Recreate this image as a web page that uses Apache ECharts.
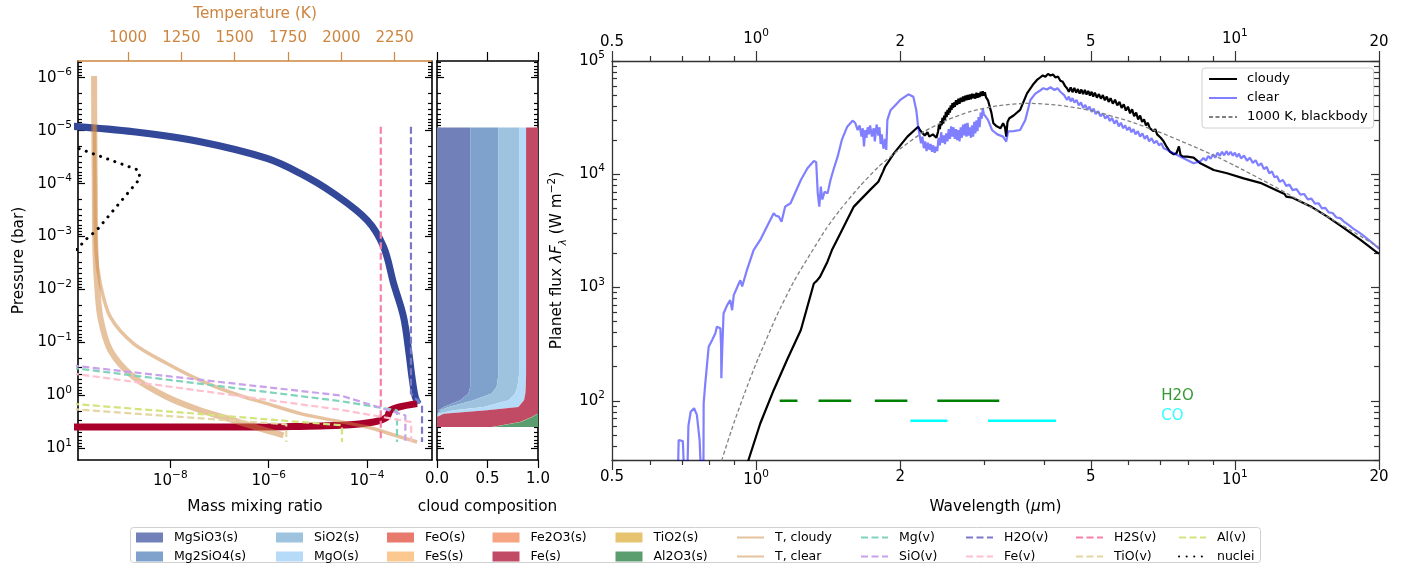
<!DOCTYPE html>
<html>
<head>
<meta charset="utf-8">
<script src="https://cdn.jsdelivr.net/npm/echarts@6/dist/echarts.min.js"></script>
<style>
  html, body { margin: 0; padding: 0; background: #ffffff; }
  #chart { width: 1405px; height: 564px; }
</style>
</head>
<body>
<div id="chart"></div>
<script>
// ---------------------------------------------------------------------------
// Axis ranges and tick values
// ---------------------------------------------------------------------------
const mmrRange = [1.33e-10, 2.09e-3];
const tempRange = [765.6, 2425];
const presRange = [4.83e-7, 16.6];
const compRange = [0, 1];
const wlRange = [0.49999, 20.0001];
const fluxRange = [30, 100001];

const mmrTicks = [1e-8, 1e-6, 1e-4];
const tempTicks = [1000, 1250, 1500, 1750, 2000, 2250];
const presTicks = [1e-6, 1e-5, 1e-4, 1e-3, 1e-2, 1e-1, 1, 10];
const compTicks = [0, 0.5, 1];
const wlTicks = [0.5, 1, 2, 5, 10, 20];
const wlTickText = ['0.5', '10^0', '2', '5', '10^1', '20'];
const wlMinorTicks = [0.6, 0.7, 0.8, 0.9, 3, 4, 6, 7, 8, 9];
const fluxTicks = [1e2, 1e3, 1e4, 1e5];

// ---------------------------------------------------------------------------
// Left panel: condensate / vapour mass mixing ratio vs pressure [mmr, bar]
// ---------------------------------------------------------------------------
const mgsio3Cloud = [[1e-10, 8.24e-6], [1.79e-9, 1.05e-5], [4.07e-8, 1.62e-5], [9.23e-7, 3.34e-5],
  [4.39e-6, 6.41e-5], [2.08e-5, 1.53e-4], [1e-4, 4.9e-4], [2.17e-4, 1.57e-3], [3.47e-4, 7.71e-3],
  [5.52e-4, 0.033], [6.98e-4, 0.14], [8.18e-4, 0.449], [9.55e-4, 1.07], [1.1e-3, 1.43]];
const mg2sio4Cloud = [[1.0e-3, 1.2], [1.1e-3, 1.45]];
const feCloud = [[1e-10, 3.96], [1.94e-7, 3.96], [2.08e-6, 3.9], [2.85e-5, 3.67], [1.36e-4, 3.18],
  [2.54e-4, 2.56], [2.96e-4, 1.91], [4.38e-4, 1.66], [1.04e-3, 1.43]];

const mgVap = [[1e-10, 0.302], [2.85e-5, 1.28], [4.06e-4, 1.91], [4.06e-4, 7.6]];
const sioVap = [[1e-10, 0.272], [2.85e-5, 1.0], [6.0e-4, 2.38], [6.0e-4, 7.2]];
const h2oVap = [[7.8e-4, 8.43e-6], [7.8e-4, 0.925], [1.31e-3, 1.54], [1.31e-3, 7.6]];
const feVap = [[1e-10, 0.385], [2.85e-5, 1.86], [7.9e-4, 3.18], [7.9e-4, 7.6]];
const h2sVap = [[1.9e-4, 8.43e-6], [1.9e-4, 7.3]];
const tioVap = [[1e-10, 1.82], [2.28e-6, 3.52], [2.28e-6, 7.6]];
const alVap = [[1e-10, 1.44], [3.09e-5, 3.67], [3.09e-5, 7.6]];
const nuclei = [[1e-10, 1.95e-5], [2.25e-9, 5.56e-5], [2.43e-9, 7.98e-5], [3.21e-10, 7.57e-4],
  [1.85e-10, 1.17e-3], [1.33e-10, 1.68e-3], [1e-10, 2.0e-3]];

// Temperature profiles [K, bar]
const tCloudy = [[843, 7.8e-6], [845, 1e-4], [850, 1.8e-3], [870, 7.7e-3], [917, 0.033], [1026, 0.105],
  [1183, 0.25], [1339, 0.52], [1495, 0.92], [1652, 1.43], [1808, 2.21], [1964, 2.96], [2120, 3.96],
  [2277, 6.1], [2355, 7.6]];
const tClear = [[841, 9.3e-7], [842, 1e-5], [844, 1e-4], [847, 1.8e-3], [855, 7.7e-3], [870, 0.033],
  [917, 0.14], [1026, 0.449], [1183, 1.07], [1339, 1.91], [1495, 2.96], [1620, 4.25], [1729, 5.68]];

// ---------------------------------------------------------------------------
// Middle panel: cloud composition (mass fraction per species at each level)
// ---------------------------------------------------------------------------
const compP = [8.7e-6, 0.387, 0.693, 0.925, 1.24, 1.66, 1.91, 2.21, 2.56, 3.18, 3.96];
const mgsio3Frac = [0.329, 0.329, 0.329, 0.31, 0.23, 0.066, 0.016, 0, 0, 0, 0];
const mg2sio4Frac = [0.28, 0.28, 0.261, 0.23, 0.13, 0.049, 0.017, 0, 0, 0, 0];
const sio2Frac = [0.204, 0.204, 0.206, 0.233, 0.347, 0.345, 0.132, 0.007, 0, 0, 0];
const mgoFrac = [0.069, 0.069, 0.083, 0.102, 0.155, 0.346, 0.329, 0.059, 0, 0, 0];
const feoFrac = [0, 0, 0, 0, 0, 0, 0, 0, 0, 0, 0];
const fesFrac = [0, 0, 0, 0, 0, 0, 0, 0, 0, 0, 0];
const fe2o3Frac = [0, 0, 0, 0, 0, 0, 0, 0, 0, 0, 0];
const feFrac = [0.118, 0.118, 0.121, 0.125, 0.138, 0.194, 0.506, 0.929, 0.938, 0.823, 0.543];
const tio2Frac = [0, 0, 0, 0, 0, 0, 0, 0.002, 0.005, 0.007, 0.01];
const al2o3Frac = [0, 0, 0, 0, 0, 0, 0, 0.003, 0.057, 0.17, 0.447];

// ---------------------------------------------------------------------------
// Right panel: emission spectra [wavelength um, lambda F_lambda W m^-2]
// ---------------------------------------------------------------------------
const cloudySpec = [[0.95, 24], [0.964, 30], [1.02, 63], [1.088, 124], [1.16, 229], [1.24, 421],
  [1.32, 1086], [1.34, 1150], [1.36, 1245], [1.41, 1700], [1.44, 2140], [1.5, 3010], [1.6, 5180],
  [1.73, 7280], [1.8, 8600], [1.84, 10500], [1.86, 11700], [1.87, 11300], [1.94, 15300], [2.07, 21500],
  [2.18, 26300], [2.2, 24500], [2.22, 23800], [2.25, 22000], [2.28, 23500], [2.3, 21500], [2.34, 22500],
  [2.38, 21000],
  [2.40, 24000], [2.41, 27500], [2.42, 25000], [2.43, 29500], [2.44, 27000], [2.45, 31500], [2.46, 28000],
  [2.47, 33000], [2.48, 30000], [2.49, 35500], [2.50, 32000], [2.51, 37000], [2.52, 33500], [2.53, 38500],
  [2.54, 35000], [2.55, 40500], [2.56, 37000], [2.57, 42500], [2.58, 38500], [2.59, 43000], [2.60, 39500],
  [2.615, 45000], [2.63, 41000], [2.645, 46500], [2.66, 42000], [2.675, 47500], [2.69, 43500], [2.705, 48500],
  [2.72, 44000], [2.735, 49500], [2.75, 45000], [2.765, 50000], [2.78, 45500], [2.795, 50500], [2.81, 46000],
  [2.825, 51500], [2.84, 47000], [2.855, 51000], [2.87, 46500], [2.885, 52500], [2.90, 47500], [2.915, 52000],
  [2.93, 48000], [2.945, 53500], [2.96, 49000], [2.975, 54000], [2.99, 49500], [3.005, 53000], [3.02, 48000],
  [3.05, 45000], [3.1, 35000], [3.13, 28200], [3.18, 26500], [3.24, 25500], [3.28, 28200],
  [3.31, 26000], [3.33, 21500], [3.35, 29000], [3.38, 31200], [3.45, 33000], [3.56, 37000], [3.68, 51800],
  [3.8, 63000], [3.86, 68000], [3.92, 71500], [3.97, 74500], [4.02, 72500], [4.07, 77000], [4.12, 74500],
  [4.17, 76000], [4.22, 71500], [4.27, 73000], [4.32, 67000], [4.37, 65500], [4.42, 60000],
  [4.46, 57400], [4.50, 53500], [4.54, 58500], [4.58, 53000], [4.62, 58000], [4.66, 52500], [4.70, 56500],
  [4.74, 51500], [4.78, 56000], [4.82, 51000], [4.86, 55500], [4.90, 50500], [4.94, 54500], [4.98, 49500],
  [5.02, 53500], [5.06, 48500], [5.10, 52500], [5.15, 47500], [5.20, 51000], [5.25, 46500], [5.30, 50000],
  [5.35, 45000], [5.40, 48500], [5.45, 43500], [5.50, 47000], [5.56, 42000], [5.62, 45500], [5.68, 40500],
  [5.74, 43500], [5.80, 38500], [5.86, 41500], [5.92, 36500], [5.98, 39500], [6.04, 34500], [6.10, 37500],
  [6.16, 32500], [6.22, 35000], [6.28, 30500], [6.34, 33000], [6.40, 29000], [6.46, 30500], [6.52, 27000],
  [6.58, 28500], [6.64, 25500], [6.70, 26500], [6.76, 24000], [6.82, 25000], [6.88, 22500], [6.94, 23000],
  [7.0, 21000], [7.1, 19500], [7.2, 17500], [7.32, 15800], [7.45, 15000], [7.55, 15300],
  [7.64, 17600], [7.7, 14800], [7.78, 14300], [7.95, 14300], [8.2, 14000], [8.47, 12500], [9.03, 10900],
  [9.63, 10200], [10.43, 9200], [11.3, 8400], [12.4, 7020], [12.7, 6700], [12.8, 6350], [13.2, 6200],
  [14.4, 5200], [15.6, 4230], [16.9, 3350], [18.3, 2630], [19.7, 2070], [20, 1990]];

const clearSpec = [[0.686, 20], [0.689, 45], [0.695, 46], [0.703, 44], [0.708, 20], [0.718, 20],
  [0.722, 60], [0.73, 80], [0.742, 86], [0.752, 75], [0.762, 45], [0.768, 20], [0.776, 20], [0.777, 95],
  [0.783, 142], [0.789, 200], [0.796, 300], [0.809, 343], [0.822, 394], [0.828, 450], [0.842, 436],
  [0.845, 300], [0.846, 158], [0.85, 300], [0.855, 590], [0.87, 700], [0.883, 774], [0.891, 630],
  [0.898, 857], [0.92, 1086], [0.927, 1160], [0.935, 1020], [0.957, 1430], [0.988, 2140], [1.02, 2630],
  [1.053, 3440], [1.088, 4530], [1.1, 4300], [1.115, 4230], [1.13, 3810], [1.15, 5180], [1.18, 5540],
  [1.24, 8900], [1.28, 11300], [1.32, 13100], [1.335, 12800], [1.345, 6780], [1.355, 5180], [1.365, 7790],
  [1.375, 5980], [1.39, 7000], [1.41, 6780], [1.43, 8900], [1.45, 10900], [1.48, 14300], [1.51, 20100],
  [1.55, 26300], [1.59, 29700], [1.61, 28500], [1.63, 24500], [1.645, 27000], [1.66, 21500], [1.67, 25500],
  [1.68, 17600], [1.69, 24500], [1.70, 21000], [1.71, 26000], [1.72, 22500], [1.73, 27000], [1.745, 21500],
  [1.76, 25500], [1.77, 19500], [1.785, 27500], [1.80, 22000], [1.81, 26000], [1.82, 18500], [1.83, 22500],
  [1.845, 16800], [1.86, 20500], [1.87, 16400], [1.88, 30200], [1.91, 37000], [1.94, 39500], [2.0, 45300],
  [2.08, 50800], [2.13, 48400], [2.16, 37000], [2.18, 26300],
  [2.21, 18800], [2.225, 21500], [2.24, 17000], [2.255, 19500], [2.27, 16000], [2.285, 19000], [2.30, 16500],
  [2.315, 18500], [2.33, 15800], [2.345, 18000], [2.36, 15500], [2.375, 17500], [2.39, 16000], [2.405, 21000],
  [2.42, 18000], [2.435, 23500], [2.45, 19000], [2.465, 22000], [2.48, 18500], [2.495, 23000], [2.51, 19500],
  [2.525, 25000], [2.54, 20500], [2.555, 26500], [2.57, 21500], [2.585, 26000], [2.60, 20500], [2.615, 25000],
  [2.63, 20000], [2.645, 24500], [2.66, 19500], [2.675, 26000], [2.69, 21000], [2.705, 27500], [2.72, 22000],
  [2.735, 28000], [2.75, 21500], [2.765, 28500], [2.78, 22000], [2.795, 26000], [2.81, 21000], [2.825, 27000],
  [2.84, 21500], [2.855, 29000], [2.87, 23000], [2.885, 30000], [2.90, 24000], [2.915, 32000], [2.93, 26000],
  [2.945, 35000], [2.96, 31000], [2.975, 38000], [2.99, 34000], [3.01, 33000],
  [3.05, 30200], [3.11, 24600], [3.19, 22500], [3.28, 21500], [3.33, 19400], [3.36, 23900], [3.45, 24000],
  [3.56, 24600], [3.65, 30200], [3.74, 45300], [3.83, 51500], [3.92, 54900], [3.98, 57500], [4.05, 56000],
  [4.12, 58600], [4.2, 55500], [4.26, 57500], [4.32, 53500], [4.4, 50000],
  [4.46, 45300], [4.50, 48500], [4.54, 44000], [4.58, 47000], [4.62, 43000], [4.67, 45300], [4.72, 40500],
  [4.77, 43000], [4.82, 38500], [4.87, 41000], [4.92, 37000], [4.97, 39500], [5.02, 35500], [5.07, 38000],
  [5.12, 34000], [5.18, 36000], [5.24, 32500], [5.30, 34500], [5.36, 31000], [5.42, 33000], [5.48, 29500],
  [5.54, 31500], [5.60, 28000], [5.66, 30000], [5.72, 26500], [5.78, 28500], [5.84, 25500], [5.90, 27000],
  [5.96, 24500], [6.02, 26000], [6.08, 23500], [6.14, 25000], [6.20, 22500], [6.27, 24000], [6.34, 21500],
  [6.41, 23000], [6.48, 20500], [6.55, 22000], [6.62, 19500], [6.70, 20800], [6.78, 18800], [6.86, 19800],
  [6.94, 18000], [7.02, 18800], [7.1, 17000], [7.2, 16500], [7.3, 16000], [7.45, 15300], [7.7, 14300],
  [8.2, 12500],
  [8.47, 13000], [8.6, 13900], [8.7, 13200], [8.8, 14500], [8.9, 13700], [9.0, 15000], [9.1, 14000],
  [9.2, 15500], [9.3, 14500], [9.4, 15800], [9.5, 14700], [9.6, 16000], [9.7, 14800], [9.8, 15800],
  [9.9, 14600], [10.0, 15500], [10.1, 14200], [10.2, 15200], [10.3, 13800], [10.45, 14600], [10.6, 13200],
  [10.75, 14000], [10.9, 12600], [11.05, 13300], [11.2, 11900], [11.35, 12500], [11.5, 11100], [11.65, 11600],
  [11.8, 10200], [11.95, 10600], [12.1, 9400], [12.25, 9600], [12.4, 8600], [12.6, 8900], [12.8, 7900],
  [13.0, 8100], [13.2, 7250], [13.45, 7400], [13.7, 6600], [13.95, 6700], [14.2, 6000], [14.45, 6100],
  [14.7, 5500], [14.95, 5550], [15.2, 5000], [15.45, 5050], [15.7, 4600], [16.0, 4550], [16.3, 4150],
  [16.6, 4100], [16.9, 3810], [17.3, 3550], [17.7, 3300], [18.1, 3100], [18.5, 2900], [19.0, 2650],
  [19.5, 2420], [20, 2200]];

const blackbodySpec = [[0.84, 26], [0.85, 31], [0.9, 65], [0.95, 122], [1.0, 214], [1.1, 545],
  [1.2, 1140], [1.3, 2000], [1.4, 3300], [1.5, 4900], [1.65, 7900], [1.8, 11600], [2.0, 16800],
  [2.25, 24000], [2.5, 30000], [2.8, 35800], [3.2, 40300], [3.7, 42300], [4.3, 40600], [5.0, 36600],
  [6.0, 29500], [7.0, 23300], [8.0, 18400], [9.0, 14800], [10.0, 11900], [12.0, 7950], [14.0, 5500],
  [16.0, 3980], [18.0, 2960], [20.0, 2260]];

// Molecular band markers: [start, end] wavelength pairs and their level
const h2oBands = [[1.12, 1.22], [1.35, 1.58], [1.77, 2.07], [2.39, 3.22]];
const coBands = [[2.10, 2.51], [3.05, 4.23]];
const h2oLevel = 100;
const coLevel = 66.7;
const bandLabelWl = 7.0;

// ---------------------------------------------------------------------------
// Styling
// ---------------------------------------------------------------------------
const FONT = 'DejaVu Sans';
const TAN = '#cd853f';
const compNames = ['MgSiO3(s)', 'Mg2SiO4(s)', 'SiO2(s)', 'MgO(s)', 'FeO(s)', 'FeS(s)', 'Fe2O3(s)', 'Fe(s)', 'TiO2(s)', 'Al2O3(s)'];
const compColors = ['#7180b9', '#7fa2cd', '#9dc3de', '#b6dbf8', '#e8796d', '#fbc88f', '#f6a583', '#c14a64', '#e6c46f', '#5a9e6f'];
const compFracs = [mgsio3Frac, mg2sio4Frac, sio2Frac, mgoFrac, feoFrac, fesFrac, fe2o3Frac, feFrac, tio2Frac, al2o3Frac];

const tickRich = {
  b: { fontFamily: FONT, fontSize: 15, lineHeight: 22, color: '#000' },
  s: { fontFamily: FONT, fontSize: 10.5, lineHeight: 10, verticalAlign: 'top', color: '#000' },
  n: { fontFamily: FONT, fontSize: 15, lineHeight: 16, color: '#000' }
};
const nameStyle = { fontFamily: FONT, fontSize: 15.3, color: '#000', lineHeight: 20 };

function pow10Label(v) {
  const e = Math.round(Math.log10(v));
  return '{b|10}{s|' + (e < 0 ? '\u2212' + (-e) : String(e)) + '}';
}
function wlLabel(v) {
  let best = 0;
  wlTicks.forEach((t, i) => { if (Math.abs(Math.log(v / t)) < Math.abs(Math.log(v / wlTicks[best]))) best = i; });
  const txt = wlTickText[best];
  return txt.indexOf('^') > 0 ? '{b|10}{s|' + txt.split('^')[1] + '}' : '{n|' + txt + '}';
}
function minorLogTicks(lo, hi) {
  const out = [];
  for (let e = Math.floor(Math.log10(lo)); e <= Math.ceil(Math.log10(hi)); e++) {
    for (let m = 2; m <= 9; m++) {
      const v = m * Math.pow(10, e);
      if (v >= lo && v <= hi) out.push(v);
    }
  }
  return out;
}

function mkAxis(o) {
  const a = {
    type: o.type || 'log',
    gridIndex: o.grid,
    position: o.pos,
    min: o.range[0],
    max: o.range[1],
    inverse: !!o.inverse,
    splitLine: { show: false },
    minorTick: { show: false },
    minorSplitLine: { show: false },
    axisLine: { show: !!o.line, onZero: false, lineStyle: { color: o.color || '#000', width: o.lw || 1.6 } },
    axisTick: { show: !!o.ticks, inside: !!o.inside, length: o.len || 7, customValues: o.ticks,
                lineStyle: { color: o.color || '#000', width: o.tw || 1.2 } },
    axisLabel: { show: !!o.labels, customValues: o.labels, formatter: o.fmt, margin: o.margin || 8,
                 fontFamily: FONT, fontSize: 15, lineHeight: 18, color: o.labelColor || '#000', rich: tickRich },
    axisPointer: { show: false },
    silent: true
  };
  if (a.type === 'log') a.logBase = 10;
  if (o.name) {
    a.name = o.name;
    a.nameLocation = 'middle';
    a.nameGap = o.gap;
    if (o.rot) a.nameRotate = o.rot;
    a.nameTextStyle = o.nameStyle || nameStyle;
  }
  return a;
}

const presMinor = minorLogTicks(presRange[0], presRange[1]);
const fluxMinor = minorLogTicks(fluxRange[0], fluxRange[1]);
const RIGHT_INK = '#333';

const xAxes = [
  // 0: mass mixing ratio, bottom of left panel
  mkAxis({ grid: 0, pos: 'bottom', range: mmrRange, line: true, ticks: mmrTicks, len: 8, labels: mmrTicks,
           fmt: pow10Label, margin: 10, name: 'Mass mixing ratio', gap: 37 }),
  // 1: temperature, top of left panel
  mkAxis({ type: 'value', grid: 0, pos: 'top', range: tempRange, line: true, color: TAN, ticks: tempTicks, len: 9,
           labels: tempTicks, labelColor: TAN, margin: 14, fmt: v => String(Math.round(v)),
           name: 'Temperature (K)', gap: 33, nameStyle: Object.assign({}, nameStyle, { color: TAN }) }),
  // 2: cloud composition fraction, bottom of middle panel
  mkAxis({ type: 'value', grid: 1, pos: 'bottom', range: compRange, line: true, ticks: compTicks, len: 8,
           labels: compTicks, fmt: v => v.toFixed(1), margin: 10, name: 'cloud composition', gap: 37 }),
  // 3: top spine of middle panel
  mkAxis({ type: 'value', grid: 1, pos: 'top', range: compRange, line: true, ticks: compTicks, len: 9 }),
  // 4: wavelength, bottom, major ticks + labels
  mkAxis({ grid: 2, pos: 'bottom', range: wlRange, line: true, color: RIGHT_INK, lw: 1.3, ticks: wlTicks, len: 10,
           labels: wlTicks, fmt: wlLabel, margin: 9, name: 'Wavelength ({i|\u03bc}m)', gap: 37,
           nameStyle: Object.assign({}, nameStyle, { rich: { i: { fontFamily: FONT, fontSize: 15.3, fontStyle: 'italic', color: '#000', lineHeight: 20 } } }) }),
  // 5: wavelength, bottom, minor ticks
  mkAxis({ grid: 2, pos: 'bottom', range: wlRange, color: RIGHT_INK, ticks: wlMinorTicks, len: 5 }),
  // 6: wavelength, top, major ticks + labels
  mkAxis({ grid: 2, pos: 'top', range: wlRange, line: true, color: RIGHT_INK, lw: 1.3, ticks: wlTicks, len: 10,
           labels: wlTicks, fmt: wlLabel, margin: 11 }),
  // 7: wavelength, top, minor ticks
  mkAxis({ grid: 2, pos: 'top', range: wlRange, color: RIGHT_INK, ticks: wlMinorTicks, len: 5 })
];

const yAxes = [
  // left panel
  mkAxis({ grid: 0, pos: 'left', range: presRange, inverse: true, line: true, ticks: presTicks, inside: true, len: 7,
           labels: presTicks, fmt: pow10Label, margin: 6, name: 'Pressure (bar)', gap: 49, rot: 90 }),
  mkAxis({ grid: 0, pos: 'left', range: presRange, inverse: true, ticks: presMinor, inside: true, len: 4 }),
  mkAxis({ grid: 0, pos: 'right', range: presRange, inverse: true, line: true, ticks: presTicks, inside: true, len: 7 }),
  mkAxis({ grid: 0, pos: 'right', range: presRange, inverse: true, ticks: presMinor, inside: true, len: 4 }),
  // middle panel
  mkAxis({ grid: 1, pos: 'left', range: presRange, inverse: true, line: true, ticks: presTicks, inside: true, len: 7 }),
  mkAxis({ grid: 1, pos: 'left', range: presRange, inverse: true, ticks: presMinor, inside: true, len: 4 }),
  mkAxis({ grid: 1, pos: 'right', range: presRange, inverse: true, line: true, ticks: presTicks, inside: true, len: 7 }),
  mkAxis({ grid: 1, pos: 'right', range: presRange, inverse: true, ticks: presMinor, inside: true, len: 4 }),
  // right panel
  mkAxis({ grid: 2, pos: 'left', range: fluxRange, line: true, color: RIGHT_INK, lw: 1.3, ticks: fluxTicks, inside: true,
           len: 8, labels: fluxTicks, fmt: pow10Label, margin: 7,
           name: 'Planet flux {i|\u03bbF}{sub|\u03bb} (W m{sup|\u22122})', gap: 39, rot: 90,
           nameStyle: Object.assign({}, nameStyle, { lineHeight: 22, rich: {
             i: { fontFamily: FONT, fontSize: 15.3, fontStyle: 'italic', color: '#000', lineHeight: 22 },
             sub: { fontFamily: FONT, fontSize: 10.5, fontStyle: 'italic', color: '#000', lineHeight: 14, verticalAlign: 'bottom' },
             sup: { fontFamily: FONT, fontSize: 10.5, color: '#000', lineHeight: 12, verticalAlign: 'top' } } }) }),
  mkAxis({ grid: 2, pos: 'left', range: fluxRange, color: RIGHT_INK, ticks: fluxMinor, inside: true, len: 5 }),
  mkAxis({ grid: 2, pos: 'right', range: fluxRange, line: true, color: RIGHT_INK, lw: 1.3, ticks: fluxTicks, inside: true, len: 8 }),
  mkAxis({ grid: 2, pos: 'right', range: fluxRange, color: RIGHT_INK, ticks: fluxMinor, inside: true, len: 5 })
];

// ---------------------------------------------------------------------------
// Series
// ---------------------------------------------------------------------------
const series = [];

function lineSeries(name, data, xi, yi, color, width, type, z, extra) {
  return Object.assign({
    type: 'line', name: name, data: data, xAxisIndex: xi, yAxisIndex: yi,
    showSymbol: false, symbol: 'none', clip: true, z: z, silent: true,
    lineStyle: { color: color, width: width, type: type || 'solid' },
    itemStyle: { color: color },
    emphasis: { disabled: true }
  }, extra || {});
}

// stacked cloud-composition bands, drawn as polygons in the middle panel
let cumulative = compP.map(() => 0);
compFracs.forEach((frac, s) => {
  const lo = cumulative.slice();
  const hi = cumulative.map((c, k) => c + frac[k]);
  cumulative = hi;
  const color = compColors[s];
  series.push({
    type: 'custom', name: compNames[s], xAxisIndex: 2, yAxisIndex: 4, z: 2, silent: true,
    itemStyle: { color: color },
    encode: { x: [0, 1], y: 2 },
    data: compP.map((p, k) => [lo[k], hi[k], p]),
    renderItem: function (params, api) {
      if (params.dataIndex !== 0) return;
      const pts = [];
      for (let k = 0; k < compP.length; k++) pts.push(api.coord([hi[k], compP[k]]));
      for (let k = compP.length - 1; k >= 0; k--) pts.push(api.coord([lo[k], compP[k]]));
      return { type: 'polygon', shape: { points: pts }, style: { fill: color } };
    }
  });
});

// condensate mass mixing ratios
series.push(lineSeries('', mgsio3Cloud, 0, 0, '#34489a', 7, 'solid', 3, { smooth: 0.35 }));
series.push(lineSeries('', mg2sio4Cloud, 0, 0, '#4a80c2', 6, 'solid', 3));
series.push(lineSeries('', feCloud, 0, 0, '#a8002a', 7, 'solid', 3, { smooth: 0.3 }));

// temperature profiles
series.push(lineSeries('T, cloudy', tCloudy, 1, 0, 'rgba(205,133,63,0.5)', 3.5, 'solid', 4, { smooth: 0.3 }));
series.push(lineSeries('T, clear', tClear, 1, 0, 'rgba(205,133,63,0.5)', 6, 'solid', 4, { smooth: 0.3 }));

// gas-phase mixing ratios
const dash = [7, 3.5];
series.push(lineSeries('Mg(v)', mgVap, 0, 0, '#80d3bb', 2.2, dash, 5));
series.push(lineSeries('SiO(v)', sioVap, 0, 0, '#c9a0ec', 2.2, dash, 5));
series.push(lineSeries('H2O(v)', h2oVap, 0, 0, '#7b78c8', 2.2, dash, 5));
series.push(lineSeries('Fe(v)', feVap, 0, 0, '#ffc0cf', 2.2, dash, 5));
series.push(lineSeries('H2S(v)', h2sVap, 0, 0, '#f77fa8', 2.2, dash, 5));
series.push(lineSeries('TiO(v)', tioVap, 0, 0, '#e4d6a4', 2.2, dash, 5));
series.push(lineSeries('Al(v)', alVap, 0, 0, '#d4e47c', 2.2, dash, 5));
series.push(lineSeries('nuclei', nuclei, 0, 0, '#000', 3, [0.1, 7.5], 6,
  { lineStyle: { color: '#000', width: 3, type: [0.1, 7.5], cap: 'round' } }));

// spectra
series.push(lineSeries('cloudy', cloudySpec, 4, 8, '#000', 2.2, 'solid', 3));
series.push(lineSeries('clear', clearSpec, 4, 8, 'rgba(0,0,255,0.5)', 2.2, 'solid', 4));
series.push(lineSeries('1000 K, blackbody', blackbodySpec, 4, 8, '#808080', 1.3, [4, 2.5], 5, { smooth: 0.2 }));

// molecular band markers
h2oBands.forEach(b => series.push(lineSeries('', [[b[0], h2oLevel], [b[1], h2oLevel]], 4, 8, '#008000', 2.5, 'solid', 5)));
coBands.forEach(b => series.push(lineSeries('', [[b[0], coLevel], [b[1], coLevel]], 4, 8, '#00ffff', 2.5, 'solid', 5)));
[['H2O', h2oLevel, '#008000'], ['CO', coLevel, '#00ffff']].forEach(t => {
  series.push({
    type: 'scatter', xAxisIndex: 4, yAxisIndex: 8, silent: true, symbolSize: 1, z: 6,
    itemStyle: { color: 'rgba(0,0,0,0)' },
    data: [[bandLabelWl, t[1]]],
    label: { show: true, position: 'right', distance: 0, offset: [0, -5], formatter: t[0],
             fontFamily: FONT, fontSize: 15, color: t[2] },
    emphasis: { disabled: true }
  });
});

// ---------------------------------------------------------------------------
// Legends
// ---------------------------------------------------------------------------
const legendCols = [
  [['MgSiO3(s)', 'Mg2SiO4(s)'], 136, true],
  [['SiO2(s)', 'MgO(s)'], 276, true],
  [['FeO(s)', 'FeS(s)'], 387, true],
  [['Fe2O3(s)', 'Fe(s)'], 492.5, true],
  [['TiO2(s)', 'Al2O3(s)'], 615.5, true],
  [['T, cloudy', 'T, clear'], 736, false],
  [['Mg(v)', 'SiO(v)'], 860, false],
  [['H2O(v)', 'Fe(v)'], 965, false],
  [['H2S(v)', 'TiO(v)'], 1075, false],
  [['Al(v)', 'nuclei'], 1178, false]
];
const legends = legendCols.map(c => {
  const lg = {
    data: c[0].map(n => c[2] ? { name: n, icon: 'rect' } : { name: n }),
    orient: 'vertical', left: c[1], top: 530, padding: 0, itemGap: 4,
    itemWidth: 27, itemHeight: 10, selectedMode: false,
    textStyle: { fontFamily: FONT, fontSize: 12.5, color: '#000', lineHeight: 15, padding: [0, 0, 0, 6] }
  };
  if (!c[2]) lg.itemStyle = { opacity: 0 };
  return lg;
});
legends.push({
  data: ['cloudy', 'clear', '1000 K, blackbody'],
  orient: 'vertical', left: 1202, top: 68, padding: [3, 6, 3, 6], itemGap: 3,
  itemWidth: 28, itemHeight: 12, selectedMode: false,
  itemStyle: { opacity: 0 },
  backgroundColor: 'rgba(255,255,255,0.85)', borderColor: '#d0d0d0', borderWidth: 1, borderRadius: 3,
  textStyle: { fontFamily: FONT, fontSize: 13, color: '#000', lineHeight: 16, padding: [0, 0, 0, 5] }
});

const option = {
  animation: false,
  backgroundColor: '#ffffff',
  textStyle: { fontFamily: FONT },
  grid: [
    { left: 78, top: 61, width: 354, height: 399, containLabel: false, outerBoundsMode: 'none' },
    { left: 437, top: 61, width: 101, height: 399, containLabel: false, outerBoundsMode: 'none' },
    { left: 612, top: 61, width: 767, height: 399, containLabel: false, outerBoundsMode: 'none' }
  ],
  xAxis: xAxes,
  yAxis: yAxes,
  legend: legends,
  graphic: [{
    type: 'rect', silent: true, z: 0,
    shape: { x: 130.5, y: 527.5, width: 1130, height: 35, r: 3 },
    style: { fill: '#ffffff', stroke: '#d0d0d0', lineWidth: 1 }
  }],
  series: series
};

const chart = echarts.init(document.getElementById('chart'), null, { renderer: 'canvas' });
chart.setOption(option);
</script>
</body>
</html>
